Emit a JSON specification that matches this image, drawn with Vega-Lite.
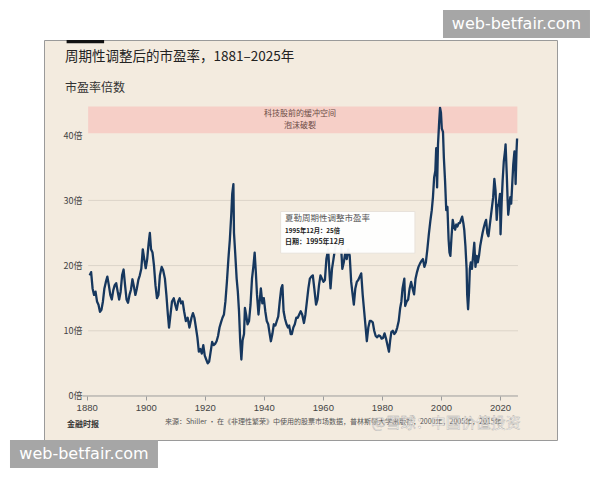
{
  "$schema": "https://vega.github.io/schema/vega-lite/v6.json",
  "width": 513,
  "height": 400,
  "autosize": {"type": "none"},
  "padding": {"left": 44, "top": 40, "right": 43, "bottom": 40},
  "background": "white",
  "view": {"fill": "#f3ebdf", "stroke": "#9a9a9a", "strokeWidth": 1},
  "config": {"font": "Noto Sans CJK SC", "axis": {"grid": false, "domain": false, "title": null}},
  "layer": [
    {
      "data": {"values": [{}]},
      "mark": {"type": "rect", "color": "#111111"},
      "encoding": {
        "x": {"datum": 1873.2},
        "x2": {"datum": 1885.9},
        "y": {"datum": 54.6},
        "y2": {"datum": 54.1}
      }
    },
    {
      "data": {"values": [{}]},
      "mark": {"type": "rect", "color": "#f6cfc7"},
      "encoding": {
        "x": {"datum": 1880.5},
        "x2": {"datum": 2025.9},
        "y": {"datum": 40.3},
        "y2": {"datum": 44.4}
      }
    },
    {
      "data": {"values": [{"v": 10}, {"v": 20}, {"v": 30}]},
      "mark": {"type": "rule", "color": "#dcd4c9", "strokeWidth": 1},
      "encoding": {
        "y": {"field": "v", "type": "quantitative"},
        "x": {"datum": 1880.5},
        "x2": {"datum": 2026.1}
      }
    },
    {
      "data": {"values": [{}]},
      "mark": {"type": "rule", "color": "#9c9c9c", "strokeWidth": 1},
      "encoding": {
        "y": {"datum": 0},
        "x": {"datum": 1878.6},
        "x2": {"datum": 2026.1}
      }
    },
    {
      "data": {"values": [{}]},
      "mark": {"type": "text", "text": "科技股前的缓冲空间", "fontSize": 8, "color": "#6b4b45", "align": "center", "baseline": "middle"},
      "encoding": {"x": {"datum": 1952.3}, "y": {"datum": 43.25}}
    },
    {
      "data": {"values": [{}]},
      "mark": {"type": "text", "text": "泡沫破裂", "fontSize": 8, "color": "#6b4b45", "align": "center", "baseline": "middle"},
      "encoding": {"x": {"datum": 1952.3}, "y": {"datum": 41.4}}
    },
    {
      "data": {"values": [
        {"year": 1881.0, "cape": 18.5}, {"year": 1881.5, "cape": 19.0}, {"year": 1882.0, "cape": 16.5}, {"year": 1882.5, "cape": 15.5},
        {"year": 1883.0, "cape": 16.0}, {"year": 1883.5, "cape": 14.5}, {"year": 1884.0, "cape": 14.0}, {"year": 1884.5, "cape": 12.9},
        {"year": 1885.0, "cape": 13.2}, {"year": 1885.5, "cape": 14.5}, {"year": 1886.0, "cape": 16.5}, {"year": 1886.5, "cape": 17.5},
        {"year": 1887.0, "cape": 18.3}, {"year": 1887.5, "cape": 17.0}, {"year": 1888.0, "cape": 15.5}, {"year": 1888.5, "cape": 14.8},
        {"year": 1889.0, "cape": 16.2}, {"year": 1889.5, "cape": 17.0}, {"year": 1890.0, "cape": 17.3}, {"year": 1890.5, "cape": 16.0},
        {"year": 1891.0, "cape": 14.8}, {"year": 1891.5, "cape": 16.0}, {"year": 1892.0, "cape": 18.5}, {"year": 1892.5, "cape": 19.4},
        {"year": 1893.0, "cape": 17.0}, {"year": 1893.5, "cape": 14.8}, {"year": 1894.0, "cape": 14.3}, {"year": 1894.5, "cape": 15.5},
        {"year": 1895.0, "cape": 16.3}, {"year": 1895.5, "cape": 17.9}, {"year": 1896.0, "cape": 16.8}, {"year": 1896.5, "cape": 15.5},
        {"year": 1897.0, "cape": 16.5}, {"year": 1897.5, "cape": 17.8}, {"year": 1898.0, "cape": 18.5}, {"year": 1898.5, "cape": 19.5},
        {"year": 1899.0, "cape": 22.5}, {"year": 1899.5, "cape": 21.0}, {"year": 1900.0, "cape": 19.6}, {"year": 1900.5, "cape": 21.0},
        {"year": 1901.0, "cape": 23.5}, {"year": 1901.4, "cape": 25.0}, {"year": 1901.8, "cape": 22.5}, {"year": 1902.3, "cape": 22.0},
        {"year": 1902.8, "cape": 20.0}, {"year": 1903.3, "cape": 17.0}, {"year": 1903.8, "cape": 15.0}, {"year": 1904.3, "cape": 15.5},
        {"year": 1904.8, "cape": 18.5}, {"year": 1905.4, "cape": 19.8}, {"year": 1905.9, "cape": 19.3}, {"year": 1906.5, "cape": 18.0},
        {"year": 1907.0, "cape": 15.5}, {"year": 1907.5, "cape": 12.5}, {"year": 1907.9, "cape": 10.5}, {"year": 1908.4, "cape": 12.5},
        {"year": 1908.9, "cape": 14.5}, {"year": 1909.5, "cape": 15.0}, {"year": 1910.0, "cape": 14.0}, {"year": 1910.5, "cape": 13.2},
        {"year": 1911.0, "cape": 14.5}, {"year": 1911.5, "cape": 15.0}, {"year": 1912.0, "cape": 14.2}, {"year": 1912.5, "cape": 14.5},
        {"year": 1913.0, "cape": 13.0}, {"year": 1913.6, "cape": 11.5}, {"year": 1914.2, "cape": 12.0}, {"year": 1914.8, "cape": 10.5},
        {"year": 1915.5, "cape": 12.0}, {"year": 1916.0, "cape": 12.7}, {"year": 1916.5, "cape": 12.0}, {"year": 1917.0, "cape": 10.5},
        {"year": 1917.5, "cape": 9.0}, {"year": 1918.0, "cape": 6.8}, {"year": 1918.5, "cape": 7.2}, {"year": 1919.0, "cape": 6.5},
        {"year": 1919.5, "cape": 7.8}, {"year": 1920.0, "cape": 6.2}, {"year": 1920.5, "cape": 5.6}, {"year": 1921.0, "cape": 5.0},
        {"year": 1921.5, "cape": 5.3}, {"year": 1922.0, "cape": 6.8}, {"year": 1922.5, "cape": 8.3}, {"year": 1923.0, "cape": 7.8},
        {"year": 1923.5, "cape": 8.0}, {"year": 1924.0, "cape": 8.4}, {"year": 1924.5, "cape": 9.2}, {"year": 1925.0, "cape": 10.5},
        {"year": 1925.5, "cape": 11.3}, {"year": 1926.0, "cape": 12.0}, {"year": 1926.5, "cape": 12.5}, {"year": 1927.0, "cape": 14.5},
        {"year": 1927.5, "cape": 17.5}, {"year": 1928.0, "cape": 21.0}, {"year": 1928.5, "cape": 24.0}, {"year": 1929.0, "cape": 28.0},
        {"year": 1929.3, "cape": 31.0}, {"year": 1929.7, "cape": 32.5}, {"year": 1929.9, "cape": 25.0}, {"year": 1930.3, "cape": 22.0},
        {"year": 1930.8, "cape": 18.0}, {"year": 1931.2, "cape": 16.0}, {"year": 1931.6, "cape": 13.0}, {"year": 1932.0, "cape": 8.5},
        {"year": 1932.4, "cape": 5.6}, {"year": 1932.8, "cape": 8.5}, {"year": 1933.3, "cape": 9.5}, {"year": 1933.6, "cape": 13.5},
        {"year": 1934.0, "cape": 12.5}, {"year": 1934.5, "cape": 11.0}, {"year": 1935.0, "cape": 11.5}, {"year": 1935.5, "cape": 14.0},
        {"year": 1936.0, "cape": 18.0}, {"year": 1936.5, "cape": 20.0}, {"year": 1936.9, "cape": 22.0}, {"year": 1937.3, "cape": 19.0},
        {"year": 1937.7, "cape": 15.5}, {"year": 1938.2, "cape": 12.5}, {"year": 1938.6, "cape": 14.5}, {"year": 1939.0, "cape": 16.5},
        {"year": 1939.5, "cape": 14.2}, {"year": 1940.0, "cape": 15.0}, {"year": 1940.5, "cape": 13.0}, {"year": 1941.0, "cape": 11.5},
        {"year": 1941.5, "cape": 11.0}, {"year": 1942.0, "cape": 9.5}, {"year": 1942.4, "cape": 8.4}, {"year": 1942.9, "cape": 9.5},
        {"year": 1943.4, "cape": 11.0}, {"year": 1943.9, "cape": 10.8}, {"year": 1944.4, "cape": 11.5}, {"year": 1944.9, "cape": 12.2},
        {"year": 1945.4, "cape": 14.5}, {"year": 1945.9, "cape": 16.5}, {"year": 1946.3, "cape": 17.0}, {"year": 1946.7, "cape": 13.0},
        {"year": 1947.2, "cape": 11.8}, {"year": 1947.7, "cape": 11.0}, {"year": 1948.2, "cape": 10.5}, {"year": 1948.6, "cape": 10.8},
        {"year": 1949.1, "cape": 9.5}, {"year": 1949.5, "cape": 9.5}, {"year": 1950.0, "cape": 10.5}, {"year": 1950.5, "cape": 11.0},
        {"year": 1951.0, "cape": 12.0}, {"year": 1951.5, "cape": 12.0}, {"year": 1952.0, "cape": 12.5}, {"year": 1952.5, "cape": 13.0},
        {"year": 1953.0, "cape": 12.5}, {"year": 1953.6, "cape": 11.2}, {"year": 1954.1, "cape": 12.5}, {"year": 1954.6, "cape": 14.5},
        {"year": 1955.1, "cape": 16.5}, {"year": 1955.6, "cape": 18.0}, {"year": 1956.1, "cape": 18.3}, {"year": 1956.6, "cape": 18.5},
        {"year": 1957.1, "cape": 16.5}, {"year": 1957.7, "cape": 14.0}, {"year": 1958.2, "cape": 14.8}, {"year": 1958.7, "cape": 17.0},
        {"year": 1959.2, "cape": 18.5}, {"year": 1959.7, "cape": 18.0}, {"year": 1960.2, "cape": 17.5}, {"year": 1960.7, "cape": 17.8},
        {"year": 1961.2, "cape": 21.0}, {"year": 1961.8, "cape": 22.5}, {"year": 1962.3, "cape": 18.5}, {"year": 1962.6, "cape": 16.5},
        {"year": 1963.1, "cape": 19.5}, {"year": 1963.6, "cape": 21.0}, {"year": 1964.1, "cape": 22.5}, {"year": 1964.6, "cape": 23.5},
        {"year": 1965.2, "cape": 23.8}, {"year": 1965.8, "cape": 24.0}, {"year": 1966.1, "cape": 23.5}, {"year": 1966.6, "cape": 19.5},
        {"year": 1967.1, "cape": 20.5}, {"year": 1967.6, "cape": 22.0}, {"year": 1968.1, "cape": 21.0}, {"year": 1968.6, "cape": 22.5},
        {"year": 1969.1, "cape": 21.5}, {"year": 1969.6, "cape": 17.5}, {"year": 1970.1, "cape": 15.5}, {"year": 1970.5, "cape": 14.0},
        {"year": 1971.0, "cape": 16.5}, {"year": 1971.5, "cape": 17.5}, {"year": 1972.0, "cape": 17.8}, {"year": 1972.5, "cape": 18.3},
        {"year": 1973.0, "cape": 18.8}, {"year": 1973.5, "cape": 15.5}, {"year": 1974.0, "cape": 13.0}, {"year": 1974.5, "cape": 10.5},
        {"year": 1974.9, "cape": 8.4}, {"year": 1975.4, "cape": 10.5}, {"year": 1975.9, "cape": 11.5}, {"year": 1976.4, "cape": 11.5},
        {"year": 1976.9, "cape": 11.3}, {"year": 1977.4, "cape": 10.0}, {"year": 1977.9, "cape": 9.2}, {"year": 1978.4, "cape": 9.0},
        {"year": 1978.9, "cape": 9.3}, {"year": 1979.4, "cape": 9.2}, {"year": 1979.9, "cape": 8.8}, {"year": 1980.4, "cape": 8.9},
        {"year": 1980.9, "cape": 9.6}, {"year": 1981.4, "cape": 8.8}, {"year": 1981.9, "cape": 7.8}, {"year": 1982.4, "cape": 6.8},
        {"year": 1982.8, "cape": 8.5}, {"year": 1983.2, "cape": 9.8}, {"year": 1983.7, "cape": 10.0}, {"year": 1984.2, "cape": 9.5},
        {"year": 1984.7, "cape": 9.8}, {"year": 1985.2, "cape": 10.5}, {"year": 1985.7, "cape": 11.5}, {"year": 1986.2, "cape": 13.5},
        {"year": 1986.6, "cape": 14.5}, {"year": 1987.0, "cape": 16.5}, {"year": 1987.6, "cape": 18.0}, {"year": 1987.9, "cape": 13.8},
        {"year": 1988.4, "cape": 14.5}, {"year": 1988.9, "cape": 14.8}, {"year": 1989.4, "cape": 16.5}, {"year": 1989.9, "cape": 17.5},
        {"year": 1990.4, "cape": 16.5}, {"year": 1990.9, "cape": 15.6}, {"year": 1991.4, "cape": 18.0}, {"year": 1991.9, "cape": 19.0},
        {"year": 1992.4, "cape": 19.8}, {"year": 1992.9, "cape": 20.3}, {"year": 1993.4, "cape": 20.7}, {"year": 1993.9, "cape": 21.0},
        {"year": 1994.4, "cape": 19.8}, {"year": 1994.9, "cape": 20.5}, {"year": 1995.4, "cape": 22.5}, {"year": 1995.9, "cape": 24.8},
        {"year": 1996.4, "cape": 26.8}, {"year": 1996.9, "cape": 28.5}, {"year": 1997.3, "cape": 30.5}, {"year": 1997.7, "cape": 33.5},
        {"year": 1998.1, "cape": 34.5}, {"year": 1998.4, "cape": 38.0}, {"year": 1998.7, "cape": 32.0}, {"year": 1999.0, "cape": 38.5},
        {"year": 1999.4, "cape": 42.0}, {"year": 1999.7, "cape": 44.2}, {"year": 2000.0, "cape": 43.5}, {"year": 2000.3, "cape": 41.0},
        {"year": 2000.7, "cape": 40.5}, {"year": 2001.0, "cape": 36.5}, {"year": 2001.4, "cape": 33.0}, {"year": 2001.8, "cape": 28.5},
        {"year": 2002.2, "cape": 29.0}, {"year": 2002.6, "cape": 24.0}, {"year": 2002.9, "cape": 22.0}, {"year": 2003.2, "cape": 21.5},
        {"year": 2003.6, "cape": 24.5}, {"year": 2004.0, "cape": 27.0}, {"year": 2004.4, "cape": 26.0}, {"year": 2004.8, "cape": 25.5},
        {"year": 2005.2, "cape": 26.3}, {"year": 2005.6, "cape": 26.0}, {"year": 2006.0, "cape": 26.5}, {"year": 2006.4, "cape": 26.5},
        {"year": 2006.8, "cape": 27.0}, {"year": 2007.2, "cape": 27.5}, {"year": 2007.6, "cape": 26.5}, {"year": 2007.9, "cape": 25.5},
        {"year": 2008.3, "cape": 23.0}, {"year": 2008.7, "cape": 19.5}, {"year": 2008.9, "cape": 15.5}, {"year": 2009.2, "cape": 13.3},
        {"year": 2009.5, "cape": 15.8}, {"year": 2009.8, "cape": 19.5}, {"year": 2010.1, "cape": 20.5}, {"year": 2010.5, "cape": 19.5},
        {"year": 2010.9, "cape": 21.5}, {"year": 2011.3, "cape": 23.5}, {"year": 2011.7, "cape": 19.8}, {"year": 2012.1, "cape": 21.5},
        {"year": 2012.5, "cape": 20.5}, {"year": 2012.9, "cape": 21.5}, {"year": 2013.3, "cape": 23.0}, {"year": 2013.7, "cape": 24.0},
        {"year": 2014.1, "cape": 25.0}, {"year": 2014.5, "cape": 25.8}, {"year": 2014.9, "cape": 26.5}, {"year": 2015.3, "cape": 27.0},
        {"year": 2015.7, "cape": 25.0}, {"year": 2016.1, "cape": 24.5}, {"year": 2016.5, "cape": 26.0}, {"year": 2016.9, "cape": 27.5},
        {"year": 2017.3, "cape": 29.0}, {"year": 2017.7, "cape": 30.5}, {"year": 2018.1, "cape": 33.3}, {"year": 2018.5, "cape": 31.5},
        {"year": 2018.9, "cape": 27.0}, {"year": 2019.2, "cape": 29.0}, {"year": 2019.6, "cape": 29.5}, {"year": 2020.0, "cape": 31.0},
        {"year": 2020.2, "cape": 24.8}, {"year": 2020.6, "cape": 30.0}, {"year": 2020.9, "cape": 33.0}, {"year": 2021.3, "cape": 36.0},
        {"year": 2021.7, "cape": 37.5}, {"year": 2021.9, "cape": 38.6}, {"year": 2022.3, "cape": 34.0}, {"year": 2022.6, "cape": 30.0},
        {"year": 2022.8, "cape": 27.8}, {"year": 2023.1, "cape": 29.0}, {"year": 2023.5, "cape": 30.5}, {"year": 2023.8, "cape": 29.5},
        {"year": 2024.1, "cape": 32.0}, {"year": 2024.5, "cape": 35.5}, {"year": 2024.9, "cape": 37.5}, {"year": 2025.1, "cape": 36.0},
        {"year": 2025.3, "cape": 32.5}, {"year": 2025.6, "cape": 37.5}, {"year": 2025.8, "cape": 39.5}
      ]},
      "mark": {"type": "line", "color": "#16375e", "strokeWidth": 2.3, "strokeJoin": "round"},
      "encoding": {
        "x": {
          "field": "year", "type": "quantitative",
          "scale": {"domain": [1865.54, 2039.32], "nice": false, "zero": false},
          "axis": {"values": [1880, 1900, 1920, 1940, 1960, 1980, 2000, 2020], "format": "d", "offset": -44, "domain": false, "grid": false, "ticks": true, "tickSize": 4, "tickColor": "#9c9c9c", "labelPadding": 2, "labelFontSize": 9.5, "labelColor": "#444444", "labelFont": "Liberation Sans", "title": null}
        },
        "y": {
          "field": "cape", "type": "quantitative",
          "scale": {"domain": [-6.75, 54.6], "nice": false, "zero": false},
          "axis": {"values": [0, 10, 20, 30, 40], "labelExpr": "datum.value + '倍'", "offset": -40, "domain": false, "grid": false, "ticks": false, "labelPadding": 2, "labelFontSize": 9, "labelColor": "#444444", "title": null}
        }
      }
    },
    {
      "data": {"values": [{}]},
      "mark": {"type": "rect", "color": "#ffffff", "opacity": 0.96, "stroke": "#e8e2da", "strokeWidth": 1},
      "encoding": {
        "x": {"datum": 1945.7},
        "x2": {"datum": 1991.2},
        "y": {"datum": 21.9},
        "y2": {"datum": 28.3}
      }
    },
    {
      "data": {"values": [{}]},
      "mark": {"type": "text", "text": "夏勒周期性调整市盈率", "fontSize": 8.5, "color": "#555555", "align": "left", "baseline": "middle"},
      "encoding": {"x": {"datum": 1947.2}, "y": {"datum": 27.3}}
    },
    {
      "data": {"values": [{}]},
      "mark": {"type": "text", "text": "1995年12月：25倍", "fontSize": 6.3, "fontWeight": "bold", "color": "#222222", "align": "left", "baseline": "middle"},
      "encoding": {"x": {"datum": 1947.2}, "y": {"datum": 25.35}}
    },
    {
      "data": {"values": [{}]},
      "mark": {"type": "text", "text": "日期：1995年12月", "fontSize": 7, "fontWeight": "bold", "color": "#222222", "align": "left", "baseline": "middle"},
      "encoding": {"x": {"datum": 1947.2}, "y": {"datum": 23.55}}
    },
    {
      "data": {"values": [{}]},
      "mark": {"type": "text", "text": "周期性调整后的市盈率，1881–2025年", "fontSize": 13.5, "color": "#222222", "align": "left", "baseline": "middle"},
      "encoding": {"x": {"datum": 1872.65}, "y": {"datum": 51.92}}
    },
    {
      "data": {"values": [{}]},
      "mark": {"type": "text", "text": "市盈率倍数", "fontSize": 12, "color": "#333333", "align": "left", "baseline": "middle"},
      "encoding": {"x": {"datum": 1872.65}, "y": {"datum": 47.24}}
    },
    {
      "data": {"values": [{}]},
      "mark": {"type": "text", "text": "金融时报", "fontSize": 8, "fontWeight": "bold", "color": "#333333", "align": "left", "baseline": "middle"},
      "encoding": {"x": {"datum": 1873.33}, "y": {"datum": -4.45}}
    },
    {
      "data": {"values": [{}]},
      "mark": {"type": "text", "text": "来源：Shiller · 在《非理性繁荣》中使用的股票市场数据，普林斯顿大学出版社，2000年，2005年，2015年", "fontSize": 7, "color": "#555555", "align": "left", "baseline": "middle"},
      "encoding": {"x": {"datum": 1906.5}, "y": {"datum": -3.99}}
    },
    {
      "data": {"values": [{}]},
      "mark": {"type": "text", "text": "@雪球：中国价值投资", "fontSize": 15, "color": "#ffffff", "opacity": 0.75, "stroke": "#9a9a9a", "strokeWidth": 0.4, "align": "left", "baseline": "middle"},
      "encoding": {"x": {"datum": 1976.5}, "y": {"datum": -4.14}}
    },
    {
      "data": {"values": [{}]},
      "mark": {"type": "rect", "color": "#a6a6a6"},
      "encoding": {
        "x": {"datum": 2000.7},
        "x2": {"datum": 2050.49},
        "y": {"datum": 59.2},
        "y2": {"datum": 54.91}
      }
    },
    {
      "data": {"values": [{}]},
      "mark": {"type": "text", "text": "web-betfair.com", "fontSize": 16, "color": "#ffffff", "font": "DejaVu Sans", "align": "center", "baseline": "middle"},
      "encoding": {"x": {"datum": 2025.6}, "y": {"datum": 57.06}}
    },
    {
      "data": {"values": [{}]},
      "mark": {"type": "rect", "color": "#a6a6a6"},
      "encoding": {
        "x": {"datum": 1854.02},
        "x2": {"datum": 1904.15},
        "y": {"datum": -6.75},
        "y2": {"datum": -11.04}
      }
    },
    {
      "data": {"values": [{}]},
      "mark": {"type": "text", "text": "web-betfair.com", "fontSize": 16, "color": "#ffffff", "font": "DejaVu Sans", "align": "center", "baseline": "middle"},
      "encoding": {"x": {"datum": 1879.09}, "y": {"datum": -8.9}}
    }
  ]
}
